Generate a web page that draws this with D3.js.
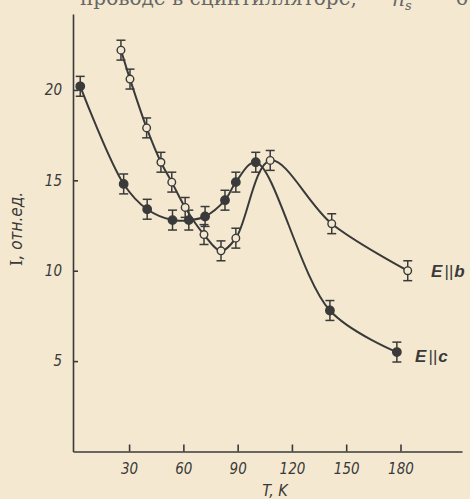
<!DOCTYPE html>
<html>
<head>
<meta charset="utf-8">
<script src="https://cdn.jsdelivr.net/npm/d3@7"></script>
<style>
  html, body { margin: 0; padding: 0; background: #f4e9d0; }
  svg { display: block; }
  .axis path, .axis line { stroke: #3a3a3a; stroke-width: 1.6; }
  .axis text { font-family: "DejaVu Sans Condensed", "Liberation Sans", sans-serif; font-style: italic; font-size: 15px; fill: #3a3a3a; }
</style>
</head>
<body>
<div id="chart"></div>
<script>
// temperature, K and intensity (rel. units)
const tempC = [3, 27, 40, 54, 63, 72, 83, 89, 100, 141, 178];
const intC  = [20.2, 14.8, 13.4, 12.8, 12.8, 13.0, 13.9, 14.9, 16.0, 7.8, 5.5];
const tempB = [25.5, 30.5, 39.7, 47.6, 53.6, 61, 71.4, 80.8, 89, 108, 142, 184];
const intB  = [22.2, 20.6, 17.9, 16.0, 14.9, 13.5, 12.0, 11.1, 11.8, 16.1, 12.6, 10.0];
const errC = 0.55, errB = 0.55;
const xTicks = [30, 60, 90, 120, 150, 180];
const yTicks = [5, 10, 15, 20];

const W = 470, H = 499;
const ink = '#3a3a3a';

const svg = d3.select('#chart').append('svg')
  .attr('width', W).attr('height', H);

svg.append('rect').attr('width', W).attr('height', H).attr('fill', '#f4e9d0');

// scraps of the book text cut off at the top of the page
svg.append('text')
  .attr('x', 80).attr('y', 5)
  .attr('font-family', 'DejaVu Serif, serif').attr('font-size', 20)
  .attr('fill', '#666').text('проводе в сцинтилляторе,');
svg.append('text')
  .attr('x', 392).attr('y', 6)
  .attr('font-family', 'DejaVu Serif, serif').attr('font-style', 'italic').attr('font-size', 20)
  .attr('fill', '#666').text('n')
  .append('tspan').attr('font-size', 13).attr('dy', 4).text('s');
svg.append('text')
  .attr('x', 456).attr('y', 5)
  .attr('font-family', 'DejaVu Serif, serif').attr('font-size', 20)
  .attr('fill', '#666').text('б');

const x = d3.scaleLinear().domain([-1, 214]).range([73, 462]);
const y = d3.scaleLinear().domain([0, 24.2]).range([451.5, 14]);

const xAxis = d3.axisBottom(x).tickValues(xTicks)
  .tickSizeInner(-7).tickSizeOuter(0).tickPadding(12);
svg.append('g').attr('class', 'axis')
  .attr('transform', 'translate(0,' + y(0) + ')')
  .call(xAxis);

const yAxis = d3.axisLeft(y).tickValues(yTicks)
  .tickSizeInner(-5).tickSizeOuter(0).tickPadding(11);
svg.append('g').attr('class', 'axis')
  .attr('transform', 'translate(' + x(-1) + ',0)')
  .call(yAxis);

// axis titles
const yTitle = svg.append('text')
  .attr('transform', 'translate(22,' + 229 + ') rotate(-90)')
  .attr('text-anchor', 'middle')
  .attr('font-family', '"DejaVu Sans Condensed", sans-serif').attr('font-style', 'italic')
  .attr('font-size', 17).attr('fill', ink);
yTitle.append('tspan').attr('font-family', '"DejaVu Serif", serif').attr('font-style', 'normal').text('I');
yTitle.append('tspan').text(', отн.ед.');
svg.append('text')
  .attr('x', 275).attr('y', 496)
  .attr('text-anchor', 'middle')
  .attr('font-family', '"DejaVu Sans Condensed", sans-serif').attr('font-style', 'italic')
  .attr('font-size', 16).attr('fill', ink)
  .text('T, K');

const line = d3.line()
  .x(function(d) { return x(d[0]); })
  .y(function(d) { return y(d[1]); })
  .curve(d3.curveCatmullRom.alpha(0.5));

const seriesC = tempC.map(function(t, i) { return [t, intC[i]]; });
const seriesB = tempB.map(function(t, i) { return [t, intB[i]]; });

[seriesC, seriesB].forEach(function(s) {
  svg.append('path').datum(s)
    .attr('d', line)
    .attr('fill', 'none')
    .attr('stroke', ink)
    .attr('stroke-width', 2);
});

function drawPoints(data, err, filled) {
  const g = svg.append('g');
  const pts = g.selectAll('g').data(data).enter().append('g');
  pts.append('line')
    .attr('x1', function(d) { return x(d[0]); })
    .attr('x2', function(d) { return x(d[0]); })
    .attr('y1', function(d) { return y(d[1] - err); })
    .attr('y2', function(d) { return y(d[1] + err); })
    .attr('stroke', ink).attr('stroke-width', 1.5);
  [-err, err].forEach(function(e) {
    pts.append('line')
      .attr('x1', function(d) { return x(d[0]) - 4.5; })
      .attr('x2', function(d) { return x(d[0]) + 4.5; })
      .attr('y1', function(d) { return y(d[1] + e); })
      .attr('y2', function(d) { return y(d[1] + e); })
      .attr('stroke', ink).attr('stroke-width', 1.5);
  });
  pts.append('circle')
    .attr('cx', function(d) { return x(d[0]); })
    .attr('cy', function(d) { return y(d[1]); })
    .attr('r', filled ? 4.2 : 3.8)
    .attr('fill', filled ? ink : '#f4e9d0')
    .attr('stroke', ink).attr('stroke-width', 1.4);
}

drawPoints(seriesC, errC, true);
drawPoints(seriesB, errB, false);

// series labels
function seriesLabel(xp, yp, letter) {
  const t = svg.append('text')
    .attr('x', xp).attr('y', yp)
    .attr('font-family', '"Liberation Sans", sans-serif')
    .attr('font-style', 'italic').attr('font-weight', 'bold')
    .attr('font-size', 17).attr('fill', ink);
  t.append('tspan').text('E');
  t.append('tspan').attr('font-weight', 'normal').attr('dx', 2).text('||');
  t.append('tspan').attr('dx', 1).text(letter);
}
seriesLabel(431, 277, 'b');
seriesLabel(415, 362, 'c');
</script>
</body>
</html>
